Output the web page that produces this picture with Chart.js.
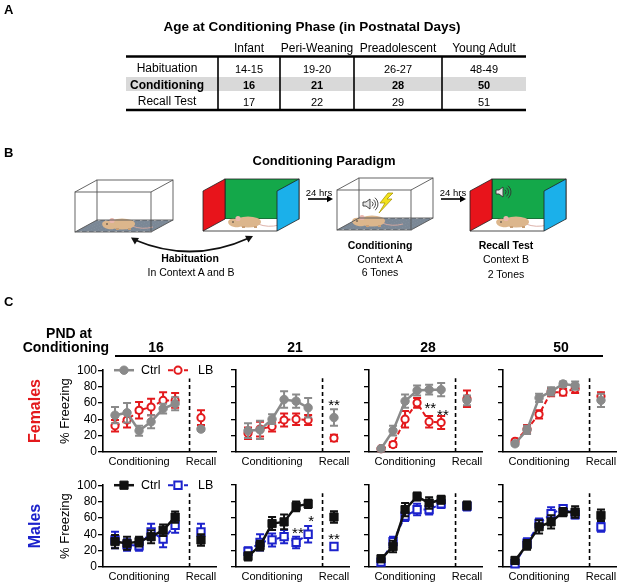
<!DOCTYPE html>
<html>
<head>
<meta charset="utf-8">
<script src="https://cdn.jsdelivr.net/npm/chart.js@4.4.1/dist/chart.umd.min.js"></script>
<style>
  html, body { margin: 0; padding: 0; background: #fff; }
  #fig { position: relative; width: 617px; height: 585px; overflow: hidden; font-family: "Liberation Sans", Arial, sans-serif; }
  #fig canvas { position: absolute; }
  .t { position: absolute; white-space: nowrap; line-height: 1; }
</style>
</head>
<body>
<div id="fig"><canvas id="bg" width="617" height="585" style="left:0;top:0"></canvas></div>
<script>
// ---- data ----
const toneX = [1, 2, 3, 4, 5, 6];        // six conditioning tones
const recallX = 8.15;                     // recall test position
const dividerX = 7.2;                     // dashed separator
const dividerTop = 90;
const xTickValues = [3, 8.15];
const xTickLabels = ['Conditioning', 'Recall'];
const yTickStep = 20;
const pndLabels = ['16', '21', '28', '50'];
const groupLabels = ['Ctrl', 'LB'];
const rowLabels = ['Females', 'Males'];

const femCtrlTones = [
  [45, 48, 26, 37, 53, 59],
  [26, 27, 40, 64, 62, 54],
  [4, 26, 62, 75, 76, 76],
  [10, 27, 66, 74, 83, 81]
];
const femCtrlTonesSem = [
  [10, 12, 6, 8, 6, 8],
  [9, 11, 6, 10, 8, 12],
  [2, 6, 8, 6, 6, 8],
  [2, 5, 5, 5, 3, 5]
];
const femCtrlRecall = [28, 42, 63, 63];
const femCtrlRecallSem = [2, 10, 6, 8];

const femLbTones = [
  [32, 39, 51, 55, 63, 63],
  [23, 28, 31, 39, 40, 39],
  [4, 9, 40, 60, 37, 36],
  [13, 28, 46, 73, 73, 77]
];
const femLbTonesSem = [
  [7, 9, 10, 10, 10, 9],
  [7, 9, 6, 8, 7, 6],
  [2, 3, 10, 6, 7, 8],
  [2, 5, 5, 5, 4, 5]
];
const femLbRecall = [42, 17, 65, 68];
const femLbRecallSem = [9, 4, 10, 5];

const maleCtrlTones = [
  [31, 29, 31, 37, 45, 61],
  [13, 26, 53, 55, 74, 77],
  [10, 25, 70, 86, 78, 82],
  [8, 27, 49, 55, 67, 67]
];
const maleCtrlTonesSem = [
  [8, 8, 6, 8, 7, 7],
  [5, 6, 8, 9, 6, 5],
  [4, 7, 8, 5, 7, 5],
  [4, 6, 8, 8, 5, 7]
];
const maleCtrlRecall = [33, 61, 75, 63];
const maleCtrlRecallSem = [7, 7, 5, 7];

const maleLbTones = [
  [33, 27, 26, 43, 34, 51],
  [19, 30, 33, 37, 30, 40],
  [6, 31, 62, 70, 70, 77],
  [4, 29, 53, 65, 71, 64]
];
const maleLbTonesSem = [
  [10, 7, 6, 10, 10, 9],
  [5, 10, 8, 8, 7, 10],
  [4, 6, 6, 7, 6, 5],
  [4, 6, 6, 8, 4, 5]
];
const maleLbRecall = [43, 25, 74, 49];
const maleLbRecallSem = [10, 4, 5, 6];

// significance marks: row, panel, x, y, text
const starMarks = [
  [0, 1, 8.15, 61, '**'],
  [0, 2, 5.1, 58, '**'],
  [0, 2, 6.15, 49, '**'],
  [1, 1, 5.15, 46, '**'],
  [1, 1, 6.25, 60, '*'],
  [1, 1, 8.15, 39, '**']
];

// panel A table
const tableHeaders = ['Infant', 'Peri-Weaning', 'Preadolescent', 'Young Adult'];
const tableRows = ['Habituation', 'Conditioning', 'Recall Test'];
const tableCells = [
  ['14-15', '19-20', '26-27', '48-49'],
  ['16', '21', '28', '50'],
  ['17', '22', '29', '51']
];

// ---- layout / style ----
const FONT = '"Liberation Sans", Arial, sans-serif';
const panelX = [103, 236, 369, 503];   // left edge of each plot area
const rowY = [370, 485];               // top (100%) of each row
const ctrlColors = ['#8a8a8a', '#111111'];
const lbColors = ['#e3191c', '#1c22cc'];
const rowColors = ['#e3191c', '#1c22cc'];

Chart.defaults.font.family = FONT;
Chart.defaults.color = '#000';

const fig = document.getElementById('fig');

function addText(str, x, y, o = {}) {
  const d = document.createElement('div');
  d.className = 't';
  d.textContent = str;
  const tx = o.align === 'right' ? '-100%' : o.align === 'left' ? '0' : '-50%';
  d.style.left = x + 'px';
  d.style.top = y + 'px';
  d.style.font = `${o.weight || 'normal'} ${o.size || 12}px ${FONT}`;
  d.style.color = o.color || '#000';
  d.style.transform = `translate(${tx},-50%)` + (o.rotate ? ' rotate(-90deg)' : '');
  d.style.zIndex = 5;
  fig.appendChild(d);
}

// ---- background drawing: table lines, paradigm sketch, header rule ----
const bg = document.getElementById('bg').getContext('2d');

function poly(ctx, pts) {
  ctx.beginPath();
  ctx.moveTo(pts[0][0], pts[0][1]);
  for (let i = 1; i < pts.length; i++) ctx.lineTo(pts[i][0], pts[i][1]);
  ctx.closePath();
}

function line(ctx, x1, y1, x2, y2, w, color) {
  ctx.save();
  ctx.strokeStyle = color || '#000';
  ctx.lineWidth = w;
  ctx.beginPath();
  ctx.moveTo(x1, y1);
  ctx.lineTo(x2, y2);
  ctx.stroke();
  ctx.restore();
}

function arrowHead(ctx, x, y, ang, size) {
  ctx.save();
  ctx.translate(x, y);
  ctx.rotate(ang);
  ctx.beginPath();
  ctx.moveTo(0, 0);
  ctx.lineTo(-size, -size * 0.55);
  ctx.lineTo(-size, size * 0.55);
  ctx.closePath();
  ctx.fill();
  ctx.restore();
}

function mouse(ctx, cx, cy, s) {
  ctx.save();
  ctx.translate(cx, cy);
  ctx.scale(s, s);
  ctx.strokeStyle = '#d8a9a0';
  ctx.lineWidth = 0.9;
  ctx.beginPath();
  ctx.moveTo(12, 2);
  ctx.quadraticCurveTo(22, 6, 33, 3);
  ctx.stroke();
  ctx.fillStyle = '#dcb68c';
  ctx.beginPath();
  ctx.ellipse(2, 0, 13, 5.5, 0, 0, Math.PI * 2);
  ctx.fill();
  ctx.beginPath();
  ctx.ellipse(-11, 1, 7, 4.2, 0.2, 0, Math.PI * 2);
  ctx.fill();
  ctx.fillStyle = '#c99f75';
  ctx.fillRect(-4, 4, 3, 2);
  ctx.fillRect(8, 4, 3, 2);
  ctx.fillStyle = '#eab6ad';
  ctx.beginPath();
  ctx.arc(-8, -3.5, 2.6, 0, Math.PI * 2);
  ctx.fill();
  ctx.fillStyle = '#333';
  ctx.beginPath();
  ctx.arc(-13, 0, 0.8, 0, Math.PI * 2);
  ctx.fill();
  ctx.restore();
}

function clearBox(ctx, x, y, w, h, dx, dy, mx, my) {
  const b = y + h;
  ctx.save();
  poly(ctx, [[x, b], [x + w, b], [x + w + dx, b + dy], [x + dx, b + dy]]);
  ctx.clip();
  ctx.strokeStyle = '#7b8896';
  ctx.lineWidth = 3;
  for (let i = -4; i < 16; i++) {
    const sx = x + i * 7;
    ctx.beginPath();
    ctx.moveTo(sx, b);
    ctx.lineTo(sx + dx + 8, b + dy);
    ctx.stroke();
  }
  ctx.restore();
  mouse(ctx, mx, my, 1);
  ctx.save();
  ctx.strokeStyle = '#555';
  ctx.lineWidth = 0.9;
  ctx.strokeRect(x + dx, y + dy, w, h);
  ctx.strokeRect(x, y, w, h);
  [[x, y], [x + w, y], [x, b], [x + w, b]].forEach(p => {
    ctx.beginPath();
    ctx.moveTo(p[0], p[1]);
    ctx.lineTo(p[0] + dx, p[1] + dy);
    ctx.stroke();
  });
  ctx.restore();
}

function colorBox(ctx, x, y, w, h, dx, dy, mx, my) {
  ctx.save();
  ctx.strokeStyle = '#222';
  ctx.lineWidth = 0.8;
  ctx.fillStyle = '#14a84a';
  ctx.fillRect(x + dx, y + dy, w, h);
  ctx.strokeRect(x + dx, y + dy, w, h);
  ctx.fillStyle = '#fff';
  poly(ctx, [[x, y + h], [x + w, y + h], [x + w + dx, y + h + dy], [x + dx, y + h + dy]]);
  ctx.fill();
  ctx.fillStyle = '#e8141b';
  poly(ctx, [[x, y], [x + dx, y + dy], [x + dx, y + dy + h], [x, y + h]]);
  ctx.fill();
  ctx.stroke();
  ctx.restore();
  mouse(ctx, mx, my, 1);
  ctx.save();
  ctx.strokeStyle = '#222';
  ctx.lineWidth = 0.8;
  ctx.fillStyle = '#1bb0ea';
  poly(ctx, [[x + w, y], [x + w + dx, y + dy], [x + w + dx, y + dy + h], [x + w, y + h]]);
  ctx.fill();
  ctx.stroke();
  ctx.beginPath();
  ctx.moveTo(x, y + h);
  ctx.lineTo(x + w, y + h);
  ctx.stroke();
  ctx.restore();
}

function speaker(ctx, cx, cy) {
  ctx.save();
  ctx.strokeStyle = '#333';
  ctx.fillStyle = '#e6e6e6';
  ctx.lineWidth = 0.9;
  poly(ctx, [[cx - 7, cy - 2], [cx - 4, cy - 2], [cx, cy - 5], [cx, cy + 5], [cx - 4, cy + 2], [cx - 7, cy + 2]]);
  ctx.fill();
  ctx.stroke();
  [3, 5.5, 8].forEach(r => {
    ctx.beginPath();
    ctx.arc(cx, cy, r, -0.9, 0.9);
    ctx.stroke();
  });
  ctx.restore();
}

function bolt(ctx) {
  ctx.save();
  ctx.fillStyle = '#f2e21c';
  ctx.strokeStyle = '#a08c00';
  ctx.lineWidth = 0.7;
  poly(ctx, [[388, 193], [380, 203], [385, 203], [379, 213], [392, 199], [387, 199], [393, 193]]);
  ctx.fill();
  ctx.stroke();
  ctx.restore();
}

// panel A table lines
bg.fillStyle = '#d9d9d9';
bg.fillRect(126, 77, 400, 14);
line(bg, 126, 56.5, 526, 56.5, 2.5);
line(bg, 126, 110, 526, 110, 2.5);
[218, 280, 354, 442].forEach(x => line(bg, x, 57, x, 110, 1.6));

// panel B sketch
const depthX = 22, depthY = -12;
clearBox(bg, 75, 192, 76, 40, depthX, depthY, 120, 224);
colorBox(bg, 203, 191, 74, 40, depthX, depthY, 246, 222);
clearBox(bg, 337, 190, 74, 40, depthX, depthY, 370, 221);
colorBox(bg, 470, 191, 74, 40, depthX, depthY, 514, 222);
speaker(bg, 370, 204);
bolt(bg);
speaker(bg, 503, 192);

// curved double arrow under habituation boxes
bg.save();
bg.strokeStyle = '#111';
bg.fillStyle = '#111';
bg.lineWidth = 1.8;
bg.beginPath();
bg.moveTo(135, 240);
bg.quadraticCurveTo(192, 264, 249, 238);
bg.stroke();
arrowHead(bg, 131, 237.5, Math.atan2(-2.5, -4), 7);
arrowHead(bg, 253, 236, Math.atan2(-2, 4), 7);
bg.restore();

// 24 hrs arrows
bg.fillStyle = '#000';
line(bg, 308, 199, 327, 199, 1.6);
arrowHead(bg, 333, 199, 0, 6);
line(bg, 441, 199, 460, 199, 1.6);
arrowHead(bg, 466, 199, 0, 6);

// panel C header rule
line(bg, 115, 356, 603, 356, 2);

// ---- texts ----
addText('A', 4, 9, { weight: 'bold', size: 13, align: 'left' });
addText('Age at Conditioning Phase (in Postnatal Days)', 312, 26, { weight: 'bold', size: 13.5 });
const colCenters = [249, 317, 398, 484];
tableHeaders.forEach((h, i) => addText(h, colCenters[i], 48, { size: 12 }));
const rowCentersY = [68, 84.5, 101];
tableRows.forEach((r, j) => {
  const bold = j === 1;
  addText(r, 167, rowCentersY[j], { size: 12, weight: bold ? 'bold' : 'normal' });
  tableCells[j].forEach((v, i) => addText(v, colCenters[i], rowCentersY[j] + 0.5, { size: 11, weight: bold ? 'bold' : 'normal' }));
});

addText('B', 4, 152, { weight: 'bold', size: 13, align: 'left' });
addText('Conditioning Paradigm', 324, 160, { weight: 'bold', size: 13 });
addText('24 hrs', 319, 192, { size: 9.5 });
addText('24 hrs', 453, 192, { size: 9.5 });
addText('Habituation', 190, 258, { weight: 'bold', size: 10.5 });
addText('In Context A and B', 191, 272, { size: 10.5 });
addText('Conditioning', 380, 245, { weight: 'bold', size: 10.5 });
addText('Context A', 380, 259, { size: 10.5 });
addText('6 Tones', 380, 272, { size: 10.5 });
addText('Recall Test', 506, 245, { weight: 'bold', size: 10.5 });
addText('Context B', 506, 259, { size: 10.5 });
addText('2 Tones', 506, 274, { size: 10.5 });

addText('C', 4, 301, { weight: 'bold', size: 13, align: 'left' });
addText('PND at', 69, 333, { weight: 'bold', size: 14 });
addText('Conditioning', 109, 347, { weight: 'bold', size: 14, align: 'right' });
const headerCenters = [156, 295, 428, 561];
pndLabels.forEach((p, i) => addText(p, headerCenters[i], 347, { weight: 'bold', size: 14 }));
rowLabels.forEach((r, i) => addText(r, 35, rowY[i] + 41, { weight: 'bold', size: 16, color: rowColors[i], rotate: true }));

// ---- Chart.js plugins ----
const errorBarPlugin = {
  id: 'errorBars',
  beforeDatasetDraw(chart, args) {
    const ds = chart.data.datasets[args.index];
    if (!ds.errors) return;
    const ctx = chart.ctx, xs = chart.scales.x, ys = chart.scales.y;
    ctx.save();
    ctx.strokeStyle = ds.borderColor;
    ctx.lineWidth = 2;
    ctx.setLineDash([]);
    ds.data.forEach((p, i) => {
      const px = xs.getPixelForValue(p.x);
      const hi = ys.getPixelForValue(p.y + ds.errors[i]);
      const lo = ys.getPixelForValue(p.y - ds.errors[i]);
      ctx.beginPath();
      ctx.moveTo(px, hi); ctx.lineTo(px, lo);
      ctx.moveTo(px - 4, hi); ctx.lineTo(px + 4, hi);
      ctx.moveTo(px - 4, lo); ctx.lineTo(px + 4, lo);
      ctx.stroke();
    });
    ctx.restore();
  }
};

function drawMarker(ctx, ds, x, y) {
  ctx.save();
  ctx.fillStyle = ds.pointBackgroundColor;
  ctx.strokeStyle = ds.borderColor;
  ctx.lineWidth = ds.pointBorderWidth;
  ctx.beginPath();
  if (ds.pointStyle === 'rect') {
    const h = ds.pointRadius * Math.SQRT1_2;
    ctx.rect(x - h, y - h, 2 * h, 2 * h);
  } else {
    ctx.arc(x, y, ds.pointRadius, 0, Math.PI * 2);
  }
  ctx.fill();
  ctx.stroke();
  ctx.restore();
}

const miniLegend = {
  id: 'miniLegend',
  afterDatasetsDraw(chart, args, opts) {
    if (!opts.display) return;
    const ctx = chart.ctx, a = chart.chartArea, y = a.top;
    [[0, 11, 38], [2, 65, 95]].forEach(([di, x0, tx], k) => {
      const ds = chart.data.datasets[di];
      ctx.save();
      ctx.strokeStyle = ds.borderColor;
      ctx.lineWidth = ds.borderWidth;
      ctx.setLineDash(ds.borderDash || []);
      ctx.beginPath();
      ctx.moveTo(a.left + x0, y);
      ctx.lineTo(a.left + x0 + 20, y);
      ctx.stroke();
      ctx.restore();
      drawMarker(ctx, ds, a.left + x0 + 10, y);
      ctx.save();
      ctx.fillStyle = '#000';
      ctx.font = `12.5px ${FONT}`;
      ctx.textBaseline = 'middle';
      ctx.fillText(groupLabels[k], a.left + tx, y + 0.5);
      ctx.restore();
    });
  }
};

const starPlugin = {
  id: 'stars',
  afterDatasetsDraw(chart, args, opts) {
    const ctx = chart.ctx, xs = chart.scales.x, ys = chart.scales.y;
    ctx.save();
    ctx.fillStyle = '#000';
    ctx.font = `15px ${FONT}`;
    ctx.textAlign = 'center';
    ctx.textBaseline = 'alphabetic';
    (opts.marks || []).forEach(m => {
      ctx.fillText(m[4], xs.getPixelForValue(m[2]), ys.getPixelForValue(m[3]) + 8.5);
    });
    ctx.restore();
  }
};

// ---- the eight panels ----
function makePanel(r, c) {
  const fem = r === 0;
  const ctrl = fem ? femCtrlTones[c] : maleCtrlTones[c];
  const ctrlSem = fem ? femCtrlTonesSem[c] : maleCtrlTonesSem[c];
  const ctrlRec = fem ? femCtrlRecall[c] : maleCtrlRecall[c];
  const ctrlRecSem = fem ? femCtrlRecallSem[c] : maleCtrlRecallSem[c];
  const lb = fem ? femLbTones[c] : maleLbTones[c];
  const lbSem = fem ? femLbTonesSem[c] : maleLbTonesSem[c];
  const lbRec = fem ? femLbRecall[c] : maleLbRecall[c];
  const lbRecSem = fem ? femLbRecallSem[c] : maleLbRecallSem[c];

  const style = fem ? 'circle' : 'rect';
  const rad = fem ? 4.2 : 5.8;
  const ctrlStyle = {
    borderColor: ctrlColors[r], backgroundColor: ctrlColors[r], pointBackgroundColor: ctrlColors[r],
    pointBorderColor: ctrlColors[r], pointStyle: style, pointRadius: rad, pointBorderWidth: 1,
    borderWidth: 2.5, clip: false
  };
  const lbStyle = {
    borderColor: lbColors[r], backgroundColor: '#fff', pointBackgroundColor: '#fff',
    pointBorderColor: lbColors[r], pointStyle: style, pointRadius: rad - 0.6, pointBorderWidth: 2,
    borderWidth: 2, borderDash: [5, 3], clip: false
  };

  const cv = document.createElement('canvas');
  cv.width = 183;
  cv.height = 106;
  cv.style.left = (panelX[c] - 50) + 'px';
  cv.style.top = (rowY[r] - 8) + 'px';
  cv.style.zIndex = 2;
  fig.appendChild(cv);

  new Chart(cv.getContext('2d'), {
    type: 'scatter',
    data: {
      datasets: [
        Object.assign({ label: 'Ctrl', data: toneX.map((x, i) => ({ x, y: ctrl[i] })), errors: ctrlSem, showLine: true }, ctrlStyle),
        Object.assign({ label: 'Ctrl recall', data: [{ x: recallX, y: ctrlRec }], errors: [ctrlRecSem], showLine: false }, ctrlStyle),
        Object.assign({ label: 'LB', data: toneX.map((x, i) => ({ x, y: lb[i] })), errors: lbSem, showLine: true }, lbStyle),
        Object.assign({ label: 'LB recall', data: [{ x: recallX, y: lbRec }], errors: [lbRecSem], showLine: false }, lbStyle),
        {
          label: 'divider', data: [{ x: dividerX, y: 0 }, { x: dividerX, y: dividerTop }], showLine: true,
          borderColor: '#000', borderWidth: 1.6, borderDash: [4, 3], pointRadius: 0, clip: false
        }
      ]
    },
    options: {
      responsive: false,
      animation: false,
      events: [],
      layout: { padding: { top: 8, right: 20, left: 0, bottom: 0 } },
      plugins: {
        legend: { display: false },
        tooltip: { enabled: false },
        miniLegend: { display: c === 0 },
        stars: { marks: starMarks.filter(m => m[0] === r && m[1] === c) }
      },
      scales: {
        x: {
          type: 'linear', min: 0, max: 9.4,
          afterBuildTicks: s => { s.ticks = xTickValues.map(v => ({ value: v })); },
          afterFit: s => { s.height = 16; },
          ticks: { autoSkip: false, maxRotation: 0, padding: 3, font: { size: 11 }, color: '#000',
                   callback: (v, i) => xTickLabels[i] },
          grid: { display: false, drawTicks: false },
          border: { color: '#000', width: 1.6 }
        },
        y: {
          min: 0, max: 100,
          afterFit: s => { s.width = 50; },
          ticks: { stepSize: yTickStep, autoSkip: false, display: c === 0, padding: 1, font: { size: 12 }, color: '#000' },
          grid: { drawOnChartArea: false, drawTicks: true, tickLength: 5, color: '#000', lineWidth: 1.3 },
          border: { color: '#000', width: 1.6 },
          title: { display: c === 0, text: '% Freezing', font: { size: 13 }, color: '#000', padding: { top: 5, bottom: 0 } }
        }
      }
    },
    plugins: [errorBarPlugin, miniLegend, starPlugin]
  });
}

for (let r = 0; r < 2; r++) {
  for (let c = 0; c < 4; c++) makePanel(r, c);
}
</script>
</body>
</html>
